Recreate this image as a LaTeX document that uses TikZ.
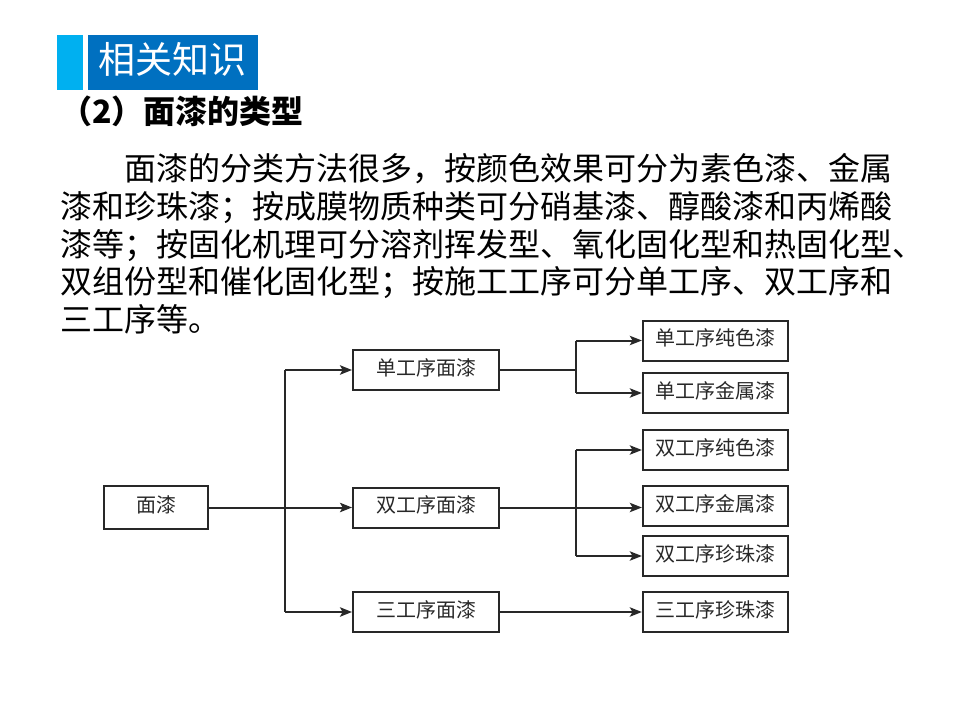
\documentclass[tikz,border=0pt]{standalone}
\usepackage{fontspec}
\newfontfamily\cjk{Noto Sans CJK SC}
\usetikzlibrary{arrows.meta}
\definecolor{hdrdark}{RGB}{0,112,192}
\definecolor{hdrlight}{RGB}{0,176,240}
\definecolor{ink}{RGB}{40,40,40}
\tikzset{
  box/.style={draw=ink, line width=1.5pt, text=ink, font=\cjk\fontsize{15}{15}\selectfont,
    text height=0.88em, text depth=0.12em, inner sep=0pt, minimum height=30pt},
  midbox/.style={box, minimum width=109.5pt},
  rbox/.style={box, minimum width=109pt},
  lbox/.style={box, minimum width=78pt, minimum height=32pt},
  ln/.style={draw=ink, line width=1.5pt},
  arr/.style={ln, -{Stealth[length=9pt,width=7pt,inset=2pt]}},
  para/.style={anchor=base west, inner sep=0pt, font=\cjk\fontsize{24}{24}\selectfont}
}
\begin{document}
\begin{tikzpicture}[x=0.75pt,y=-0.75pt]
\useasboundingbox[fill=white] (0,0) rectangle (960,720);
% header
\fill[hdrlight] (57,35) rectangle (83,90);
\fill[hdrdark] (88,35) rectangle (258,90);
\node[text=white, font=\cjk\fontsize{27.75}{28}\selectfont, inner sep=0pt, anchor=base] (hdr) at (172,73.5) {相关知识};
\node[anchor=base west, inner sep=0pt, font=\cjk\bfseries\fontsize{24}{24}\selectfont] (ttl) at (60,123.5) {（2）面漆的类型};
% paragraph
\node[para] (p1) at (124,181) {面漆的分类方法很多，按颜色效果可分为素色漆、金属};
\node[para] (p2) at (60,219) {漆和珍珠漆；按成膜物质种类可分硝基漆、醇酸漆和丙烯酸};
\node[para] (p3) at (60,256.5) {漆等；按固化机理可分溶剂挥发型、氧化固化型和热固化型、};
\node[para] (p4) at (60,294) {双组份型和催化固化型；按施工工序可分单工序、双工序和};
\node[para] (p5) at (60,331.5) {三工序等。};
% diagram
\node[lbox] (m) at (156,507.5) {面漆};
\node[midbox] (d1) at (426,370) {单工序面漆};
\node[midbox] (d2) at (426,507.5) {双工序面漆};
\node[midbox] (d3) at (426,612) {三工序面漆};
\node[rbox] (r1) at (715.5,340.5) {单工序纯色漆};
\node[rbox] (r2) at (715.5,393) {单工序金属漆};
\node[rbox] (r3) at (715.5,450) {双工序纯色漆};
\node[rbox] (r4) at (715.5,506) {双工序金属漆};
\node[rbox] (r5) at (715.5,556) {双工序珍珠漆};
\node[rbox] (r6) at (715.5,612) {三工序珍珠漆};
\coordinate (jx) at (285,0);
\coordinate (kx) at (576,0);
% from 面漆
\draw[arr] (m.east) -- (m.east -| d2.west);
\draw[ln] (jx |- d1.west) -- (jx |- d3.west);
\draw[arr] (jx |- d1.west) -- (d1.west);
\draw[arr] (jx |- d3.west) -- (d3.west);
% from 单工序面漆
\draw[ln] (d1.east) -- (d1.east -| kx);
\draw[ln] (kx |- r1.west) -- (kx |- r2.west);
\draw[arr] (kx |- r1.west) -- (r1.west);
\draw[arr] (kx |- r2.west) -- (r2.west);
% from 双工序面漆
\draw[ln] (kx |- r3.west) -- (kx |- r5.west);
\draw[arr] (d2.east) -- (d2.east -| r4.west);
\draw[arr] (kx |- r3.west) -- (r3.west);
\draw[arr] (kx |- r5.west) -- (r5.west);
% from 三工序面漆
\draw[arr] (d3.east) -- (r6.west);
\end{tikzpicture}
\end{document}
